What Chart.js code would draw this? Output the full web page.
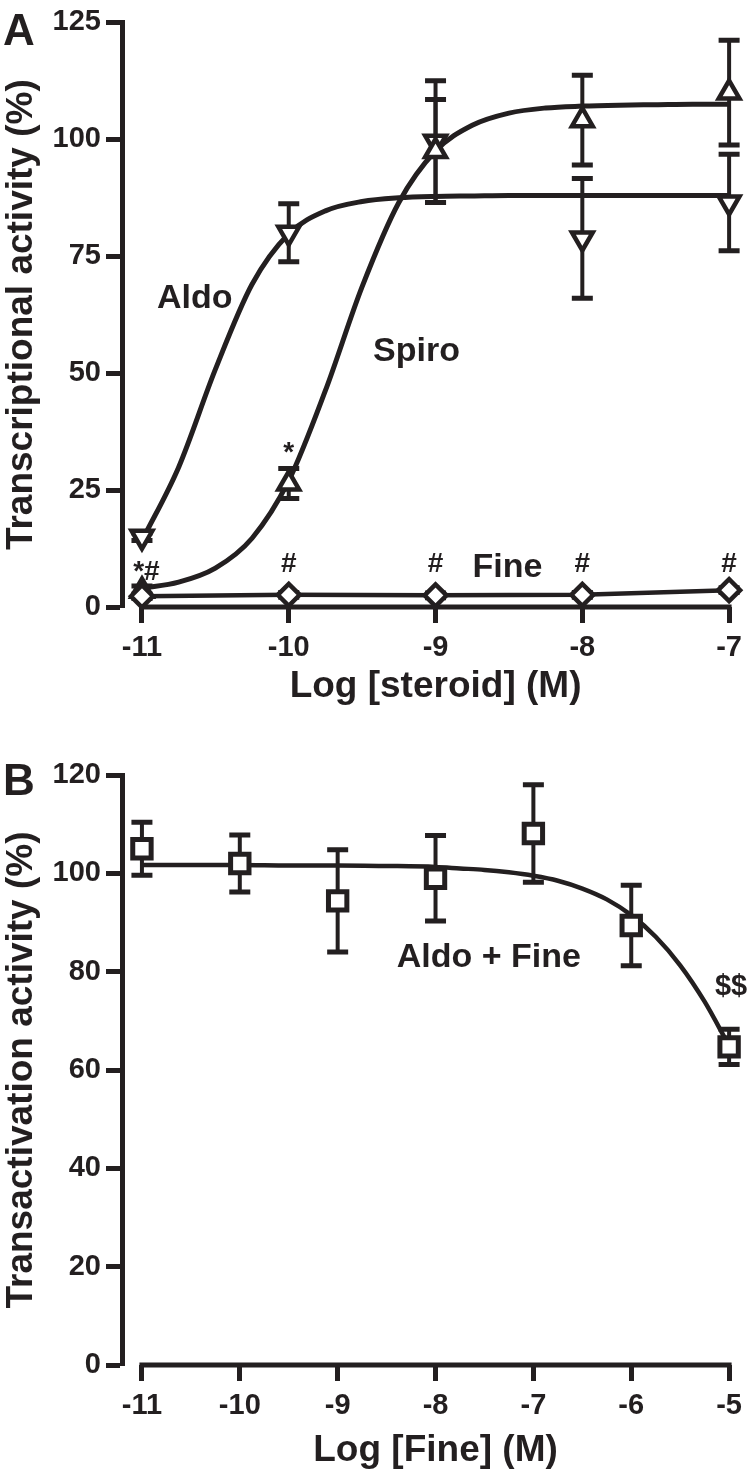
<!DOCTYPE html>
<html>
<head>
<meta charset="utf-8">
<script src="https://cdn.jsdelivr.net/npm/chart.js@4.4.0/dist/chart.umd.min.js"></script>
<style>
  html, body { margin: 0; padding: 0; background: #fff; }
  #wrap { position: relative; width: 750px; height: 1478px; }
  canvas { position: absolute; left: 0; }
  #chartA { top: 0; }
  #chartB { top: 720px; }
</style>
</head>
<body>
<div id="wrap">
  <canvas id="chartA" width="750" height="720"></canvas>
  <canvas id="chartB" width="750" height="758"></canvas>
</div>
<script>
// ---- panel A data ----
const doseA = [-11, -10, -9, -8, -7];
const aldoMean = [15, 80, 99.5, 78.8, 86.5];
const aldoSem = [0.8, 6.2, 13, 12.8, 10.3];
const spiroMean = [3.5, 26.4, 97.5, 104.1, 110];
const spiroSem = [1, 3.2, 11, 9.6, 11.2];
const fineMean = [2.3, 2.6, 2.5, 2.6, 3.6];
const fineSem = [0.5, 0.5, 0.5, 0.5, 0.5];
const curveXA = [-11, -10.75, -10.5, -10.25, -10, -9.75, -9.5, -9.25, -9, -8.75, -8.5, -8.25, -8, -7.75, -7.5, -7.25, -7];
const aldoCurve = [14.2, 29.9, 50.8, 69.0, 79.8, 84.7, 86.7, 87.5, 87.8, 87.9, 88.0, 88.0, 88.0, 88.0, 88.0, 88.0, 88.0];
const spiroCurve = [4.0, 5.3, 8.3, 14.7, 27.0, 46.3, 68.5, 86.5, 97.5, 103.0, 105.6, 106.7, 107.1, 107.3, 107.4, 107.5, 107.5];
const yTicksA = [0, 25, 50, 75, 100, 125];

// ---- panel B data ----
const doseB = [-11, -10, -9, -8, -7, -6, -5];
const mixMean = [105, 102, 94.4, 99, 108.1, 89.4, 64.7];
const mixSem = [5.4, 5.8, 10.4, 8.7, 9.9, 8.2, 3.6];
const curveXB = [-11, -10.5, -10, -9.5, -9, -8.5, -8, -7.75, -7.5, -7.25, -7, -6.75, -6.5, -6.25, -6, -5.75, -5.5, -5.25, -5];
const mixCurve = [101.7, 101.7, 101.7, 101.6, 101.6, 101.5, 101.3, 101.0, 100.7, 100.2, 99.5, 98.5, 96.9, 94.7, 91.5, 87.1, 81.3, 73.9, 64.9];
const yTicksB = [0, 20, 40, 60, 80, 100, 120];

// text placed in data space
const notesA = [
  { text: 'Aldo', x: -10.64, y: 63.9, size: 34 },
  { text: 'Spiro', x: -9.13, y: 52.6, size: 34 },
  { text: 'Fine', x: -8.51, y: 6.4, size: 34 },
  { text: '*', x: -10, y: 31.3, size: 28 },
  { text: '*#', x: -10.97, y: 5.7, size: 28 },
  { text: '#', x: -10, y: 7.4, size: 28 },
  { text: '#', x: -9, y: 7.4, size: 28 },
  { text: '#', x: -8, y: 7.4, size: 28 },
  { text: '#', x: -7, y: 7.4, size: 28 }
];
const notesB = [
  { text: 'Aldo + Fine', x: -7.455, y: 80.9, size: 34 },
  { text: '$$', x: -4.98, y: 75.2, size: 29 }
];

const ink = '#231f20';
const family = '"Liberation Sans", Arial, sans-serif';

const pts = (xs, ys) => xs.map((x, i) => ({ x: x, y: ys[i] }));

const errorBars = {
  id: 'errorBars',
  beforeDatasetsDraw(chart) {
    const ctx = chart.ctx, xs = chart.scales.x, ys = chart.scales.y;
    ctx.save();
    ctx.strokeStyle = ink;
    chart.data.datasets.forEach(ds => {
      if (!ds.sem) return;
      ds.data.forEach((p, i) => {
        const px = xs.getPixelForValue(p.x);
        const top = ys.getPixelForValue(p.y + ds.sem[i]);
        const bot = ys.getPixelForValue(p.y - ds.sem[i]);
        ctx.lineWidth = 4;
        ctx.beginPath();
        ctx.moveTo(px, top);
        ctx.lineTo(px, bot);
        ctx.stroke();
        ctx.lineWidth = 5;
        ctx.beginPath();
        ctx.moveTo(px - 10.5, top); ctx.lineTo(px + 10.5, top);
        ctx.moveTo(px - 10.5, bot); ctx.lineTo(px + 10.5, bot);
        ctx.stroke();
      });
    });
    ctx.restore();
  }
};

function makeDecor(cfg) {
  return {
    id: 'decor',
    afterDraw(chart) {
      const ctx = chart.ctx, xs = chart.scales.x, ys = chart.scales.y;
      const t = xs.ticks;
      const x0 = xs.getPixelForValue(t[0].value);
      const x1 = xs.getPixelForValue(t[t.length - 1].value);
      ctx.save();
      ctx.strokeStyle = ink;
      ctx.fillStyle = ink;
      // x axis line only spans the tick range
      ctx.lineWidth = 5;
      ctx.beginPath();
      ctx.moveTo(x0 - 2.5, xs.top);
      ctx.lineTo(x1 + 2.5, xs.top);
      ctx.stroke();
      ctx.textAlign = 'center';
      ctx.textBaseline = 'alphabetic';
      ctx.font = 'bold 37px ' + family;
      ctx.fillText(cfg.xTitle, (x0 + x1) / 2, xs.top + cfg.titleGap);
      ctx.textAlign = 'left';
      ctx.font = 'bold 44px ' + family;
      ctx.fillText(cfg.letter, 3, cfg.letterY);
      ctx.textAlign = 'center';
      cfg.notes.forEach(n => {
        ctx.font = 'bold ' + n.size + 'px ' + family;
        ctx.fillText(n.text, xs.getPixelForValue(n.x), ys.getPixelForValue(n.y));
      });
      ctx.restore();
    }
  };
}

function axes(xMin, xMax, xTicks, yMax, yTicks, yTitle) {
  return {
    x: {
      type: 'linear',
      min: xMin,
      max: xMax,
      afterBuildTicks: s => { s.ticks = xTicks.map(v => ({ value: v })); },
      afterFit: s => { s.height = 113; },
      border: { display: false },
      grid: { drawOnChartArea: false, drawTicks: true, tickLength: 16, tickWidth: 5, tickColor: ink, color: ink },
      ticks: { color: ink, padding: 8, font: { family: family, size: 29, weight: 'bold' }, callback: v => String(v), maxRotation: 0 }
    },
    y: {
      type: 'linear',
      min: 0,
      max: yMax,
      afterBuildTicks: s => { s.ticks = yTicks.map(v => ({ value: v })); },
      afterFit: s => { s.width = 122; },
      border: { display: true, width: 5, color: ink },
      grid: { drawOnChartArea: false, drawTicks: true, tickLength: 16, tickWidth: 5, tickColor: ink, color: ink },
      ticks: { color: ink, padding: 5, font: { family: family, size: 29, weight: 'bold' }, callback: v => String(v) },
      title: { display: true, text: yTitle, color: ink, padding: 0, font: { family: family, size: 37, weight: 'bold' } }
    }
  };
}

const marker = (style, radius, rotation, width) => ({
  showLine: false,
  pointStyle: style,
  pointRadius: radius,
  pointRotation: rotation,
  pointBorderWidth: width,
  pointBorderColor: ink,
  pointBackgroundColor: '#ffffff',
  clip: false
});

const curve = (data, width) => ({
  data: data,
  showLine: true,
  pointRadius: 0,
  borderColor: ink,
  borderWidth: width,
  cubicInterpolationMode: 'monotone',
  fill: false,
  clip: false
});

const ctxA = document.getElementById('chartA').getContext('2d');
const chartA = new Chart(ctxA, {
  type: 'scatter',
  data: {
    datasets: [
      Object.assign({ label: 'Fine', data: pts(doseA, fineMean), sem: fineSem }, marker('rectRot', 11, 0, 4.5),
        { showLine: true, tension: 0, borderColor: ink, borderWidth: 4.5 }),
      Object.assign({ label: 'Spiro', data: pts(doseA, spiroMean), sem: spiroSem }, marker('triangle', 12, 0, 4.5)),
      Object.assign({ label: 'Aldo', data: pts(doseA, aldoMean), sem: aldoSem }, marker('triangle', 12, 180, 4.5)),
      Object.assign({ label: 'Spiro fit' }, curve(pts(curveXA, spiroCurve), 5)),
      Object.assign({ label: 'Aldo fit' }, curve(pts(curveXA, aldoCurve), 5))
    ]
  },
  options: {
    responsive: false,
    animation: false,
    events: [],
    layout: { padding: { top: 20, right: 20, left: 0, bottom: 0 } },
    scales: axes(-11 - 20 / 147, -7, doseA, 125, yTicksA, 'Transcriptional activity (%)'),
    plugins: { legend: { display: false }, tooltip: { enabled: false } }
  },
  plugins: [errorBars, makeDecor({ letter: 'A', letterY: 45, xTitle: 'Log [steroid] (M)', titleGap: 90, notes: notesA })]
});

const ctxB = document.getElementById('chartB').getContext('2d');
const chartB = new Chart(ctxB, {
  type: 'scatter',
  data: {
    datasets: [
      Object.assign({ label: 'Aldo + Fine', data: pts(doseB, mixMean), sem: mixSem }, marker('rect', 13, 0, 5)),
      Object.assign({ label: 'Aldo + Fine fit' }, curve(pts(curveXB, mixCurve), 4.5))
    ]
  },
  options: {
    responsive: false,
    animation: false,
    events: [],
    layout: { padding: { top: 55, right: 19, left: 0, bottom: 0 } },
    scales: axes(-11 - 20 / 98.17, -5, doseB, 120, yTicksB, 'Transactivation activity (%)'),
    plugins: { legend: { display: false }, tooltip: { enabled: false } }
  },
  plugins: [errorBars, makeDecor({ letter: 'B', letterY: 75, xTitle: 'Log [Fine] (M)', titleGap: 96, notes: notesB })]
});
</script>
</body>
</html>
